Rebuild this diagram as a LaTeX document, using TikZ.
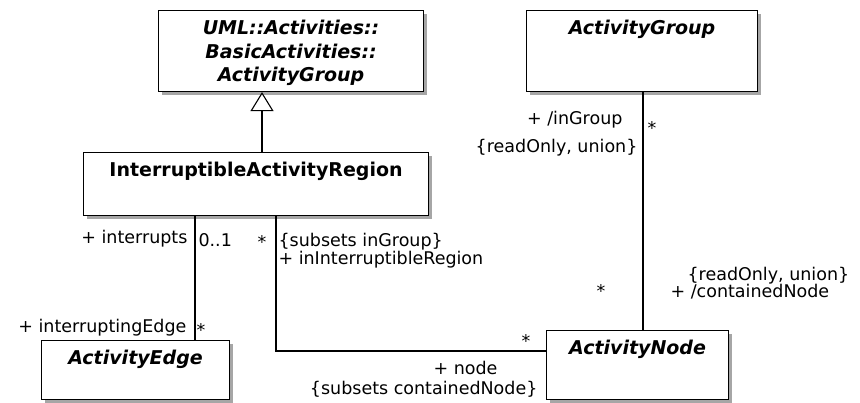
\documentclass[tikz,border=0pt]{standalone}
\usepackage{fontspec}
\setmainfont{DejaVu Sans}
\usetikzlibrary{arrows.meta,positioning,shadows}

\begin{document}
\begin{tikzpicture}[x=1pt,y=-1pt,line width=1.1pt,
  cls/.style={draw,fill=white,anchor=north west,inner sep=0pt,drop shadow={shadow xshift=3pt,shadow yshift=-3pt,fill=black!35,opacity=1}},
  cname/.style={font=\fontsize{19}{23.5}\selectfont\bfseries,inner sep=0pt,align=center},
  aname/.style={cname,font=\fontsize{19}{23.5}\selectfont\bfseries\itshape},
  lab/.style={font=\fontsize{17.5}{20}\selectfont,inner sep=0pt}]
\useasboundingbox (0,0) rectangle (860,402);
% classes
\node[cls,minimum width=265pt,minimum height=81pt] (basic) at (158,10) {};
\node[aname,below=10pt of basic.north] (basicname) {UML::Activities::\\BasicActivities::\\ActivityGroup};
\node[cls,minimum width=345pt,minimum height=63pt] (region) at (83,152) {};
\node[cname,below=10pt of region.north] (regionname) {InterruptibleActivityRegion};
\node[cls,minimum width=231pt,minimum height=81pt] (group) at (526,10) {};
\node[aname,below=10pt of group.north] (groupname) {ActivityGroup};
\node[cls,minimum width=182pt,minimum height=69pt] (actnode) at (546,330) {};
\node[aname,below=10pt of actnode.north] (actnodename) {ActivityNode};
\node[cls,minimum width=188pt,minimum height=59pt] (edge) at (41,340) {};
\node[aname,below=10pt of edge.north] (edgename) {ActivityEdge};
% connectors
\coordinate (genx) at (262,0);\coordinate (intx) at (195,0);\coordinate (grpx) at (643,0);\coordinate (inx) at (276,351);
\draw[-{Triangle[open,length=19pt,width=23pt,fill=white]}] (region.north -| genx)--(basic.south -| genx);
\draw (region.south -| intx)--(edge.north -| intx);
\draw (group.south -| grpx)--(actnode.north -| grpx);
\draw (region.south -| inx) |- (actnode.west |- inx);
% ends
\node[lab,anchor=base east] (ingrp) at (623,124) {+ /inGroup};
\node[lab,anchor=base east] (ingrpc) at (638,152) {\{readOnly, union\}};
\node[lab,anchor=base] (ingrpm) at (652,134) {*};
\node[lab,anchor=base west] (contc) at (687,280) {\{readOnly, union\}};
\node[lab,anchor=base west] (cont) at (670,297) {+ /containedNode};
\node[lab,anchor=base] (contm) at (601,297) {*};
\node[lab,anchor=base west] (inregc) at (278,246) {\{subsets inGroup\}};
\node[lab,anchor=base west] (inreg) at (278,264) {+ inInterruptibleRegion};
\node[lab,anchor=base] (inregm) at (262,248) {*};
\node[lab,anchor=base east] (intr) at (188,243) {+ interrupts};
\node[lab,anchor=base west] (intrm) at (198,246) {0..1};
\node[lab,anchor=base east] (intedge) at (187,332) {+ interruptingEdge};
\node[lab,anchor=base] (intedgem) at (201,336) {*};
\node[lab,anchor=base] (nodem) at (526,347) {*};
\node[lab,anchor=base west] (nd) at (433,374) {+ node};
\node[lab,anchor=base east] (ndc) at (538,394) {\{subsets containedNode\}};
\end{tikzpicture}
\end{document}
